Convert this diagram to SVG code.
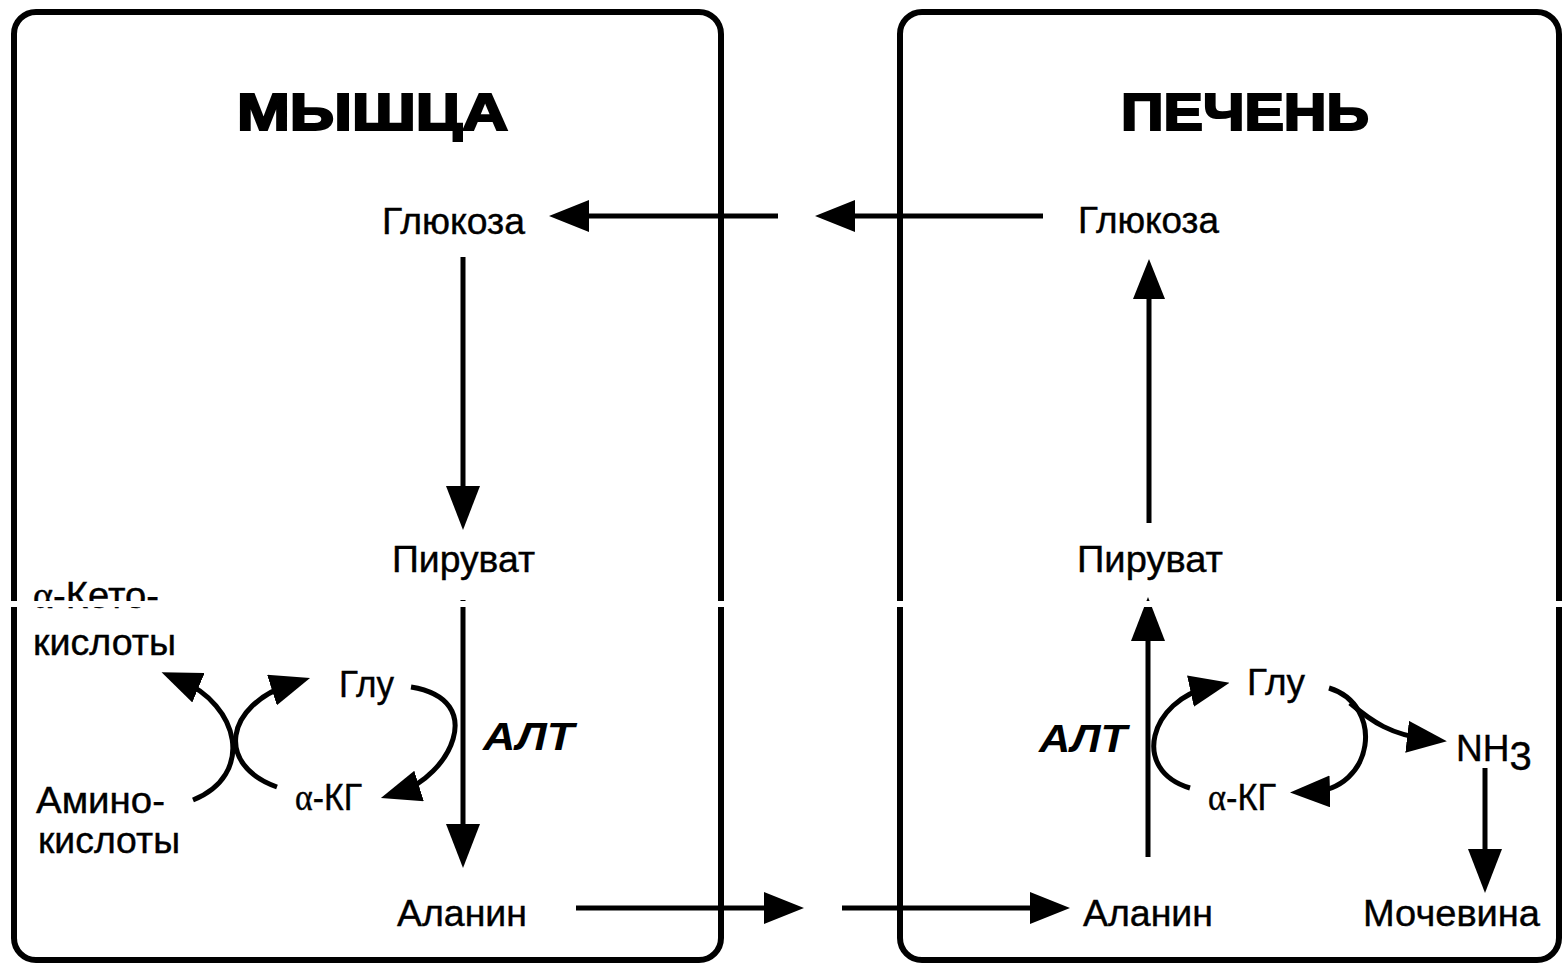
<svg xmlns="http://www.w3.org/2000/svg" width="1563" height="963" viewBox="0 0 1563 963">
<defs>
<style>
.box{fill:none;stroke:#000;stroke-width:6}
.ln{fill:none;stroke:#000;stroke-width:5;marker-end:url(#ah)}
.lnL{fill:none;stroke:#000;stroke-width:5;marker-end:url(#ahL)}
.t{font-family:"Liberation Sans",Arial,sans-serif;font-size:37px;fill:#000;stroke:#000;stroke-width:0.4}
.title{font-family:"Liberation Sans",Arial,sans-serif;font-weight:bold;font-size:52px;fill:#000;stroke:#000;stroke-width:2.2}
.alt{font-family:"Liberation Sans",Arial,sans-serif;font-weight:bold;font-style:italic;font-size:38px;fill:#000}
.a{font-family:"Liberation Serif","Times New Roman",serif}
</style>
<marker id="ah" markerUnits="userSpaceOnUse" markerWidth="40" markerHeight="32" viewBox="0 0 40 32" refX="20" refY="16" orient="auto"><path d="M0,0 L40,16 L0,32 z" fill="#000"/></marker>
<marker id="ahL" markerUnits="userSpaceOnUse" markerWidth="44" markerHeight="34" viewBox="0 0 44 34" refX="22" refY="17" orient="auto"><path d="M0,0 L44,17 L0,34 z" fill="#000"/></marker>
</defs>
<rect width="1563" height="963" fill="#fff"/>
<g id="muscle">
<rect class="box" x="14" y="12" width="707" height="948" rx="22"/>
<text class="title" x="237" y="130" textLength="271" lengthAdjust="spacingAndGlyphs">МЫШЦА</text>
</g>
<g id="liver">
<rect class="box" x="900" y="12" width="659" height="948" rx="22"/>
<text class="title" x="1121" y="130" textLength="248" lengthAdjust="spacingAndGlyphs">ПЕЧЕНЬ</text>
</g>
<g id="glucose-m"><text class="t" x="382" y="234" textLength="143" lengthAdjust="spacingAndGlyphs">Глюкоза</text></g>
<g id="pyruvate-m"><text class="t" x="392" y="572" textLength="143" lengthAdjust="spacingAndGlyphs">Пируват</text></g>
<g id="alanine-m"><text class="t" x="397" y="926" textLength="130" lengthAdjust="spacingAndGlyphs">Аланин</text></g>
<g id="ketoacids"><text class="t" x="33" y="608" textLength="126" lengthAdjust="spacingAndGlyphs"><tspan class="a">α</tspan>-Кето-</text><text class="t" x="33" y="655" textLength="143" lengthAdjust="spacingAndGlyphs">кислоты</text></g>
<g id="aminoacids"><text class="t" x="36" y="813" textLength="129" lengthAdjust="spacingAndGlyphs">Амино-</text><text class="t" x="38" y="853" textLength="142" lengthAdjust="spacingAndGlyphs">кислоты</text></g>
<g id="glu-m"><text class="t" x="339" y="697" textLength="55" lengthAdjust="spacingAndGlyphs">Глу</text></g>
<g id="akg-m"><text class="t" x="295" y="810" textLength="67" lengthAdjust="spacingAndGlyphs"><tspan class="a">α</tspan>-КГ</text></g>
<g id="alt-m"><text class="alt" x="483" y="750" textLength="91" lengthAdjust="spacingAndGlyphs">АЛТ</text></g>
<g id="glucose-l"><text class="t" x="1078" y="233" textLength="141" lengthAdjust="spacingAndGlyphs">Глюкоза</text></g>
<g id="pyruvate-l"><text class="t" x="1077" y="572" textLength="146" lengthAdjust="spacingAndGlyphs">Пируват</text></g>
<g id="alanine-l"><text class="t" x="1083" y="926" textLength="130" lengthAdjust="spacingAndGlyphs">Аланин</text></g>
<g id="glu-l"><text class="t" x="1247" y="695" textLength="58" lengthAdjust="spacingAndGlyphs">Глу</text></g>
<g id="akg-l"><text class="t" x="1208" y="810" textLength="68" lengthAdjust="spacingAndGlyphs"><tspan class="a">α</tspan>-КГ</text></g>
<g id="alt-l"><text class="alt" x="1039" y="752" textLength="88" lengthAdjust="spacingAndGlyphs">АЛТ</text></g>
<g id="nh3"><text class="t" x="1456" y="761">NH<tspan dy="9" style="font-size:40px">3</tspan></text></g>
<g id="urea"><text class="t" x="1363" y="926" textLength="177" lengthAdjust="spacingAndGlyphs">Мочевина</text></g>
<g id="connectors">
<path class="ln" d="M1043,216 L835,216"/>
<path class="ln" d="M778,216 L569,216"/>
<path class="lnL" d="M463,257 L463,508"/>
<path class="lnL" d="M463,600 L463,846"/>
<path class="ln" d="M576,908 L784,908"/>
<path class="ln" d="M842,908 L1050,908"/>
<path class="lnL" d="M1148,857 L1148,619"/>
<path class="ln" d="M1149,523 L1149,279"/>
<path class="lnL" d="M1485,768 L1485,871"/>
<path class="ln" d="M411,687 C490,700 448,777 400,792"/>
<path class="ln" d="M193,800 C255,775 240,705 180,680"/>
<path class="ln" d="M277,787 C215,765 225,705 291,684"/>
<path class="ln" d="M1190,788 C1130,770 1150,700 1210,687"/>
<path class="ln" d="M1329,688 C1385,705 1375,790 1310,792"/>
<path class="ln" d="M1350,703 C1372,722 1392,735 1427,739"/>
</g>
<rect id="scan-gap" x="0" y="601" width="1563" height="6" fill="#fff"/>
</svg>
